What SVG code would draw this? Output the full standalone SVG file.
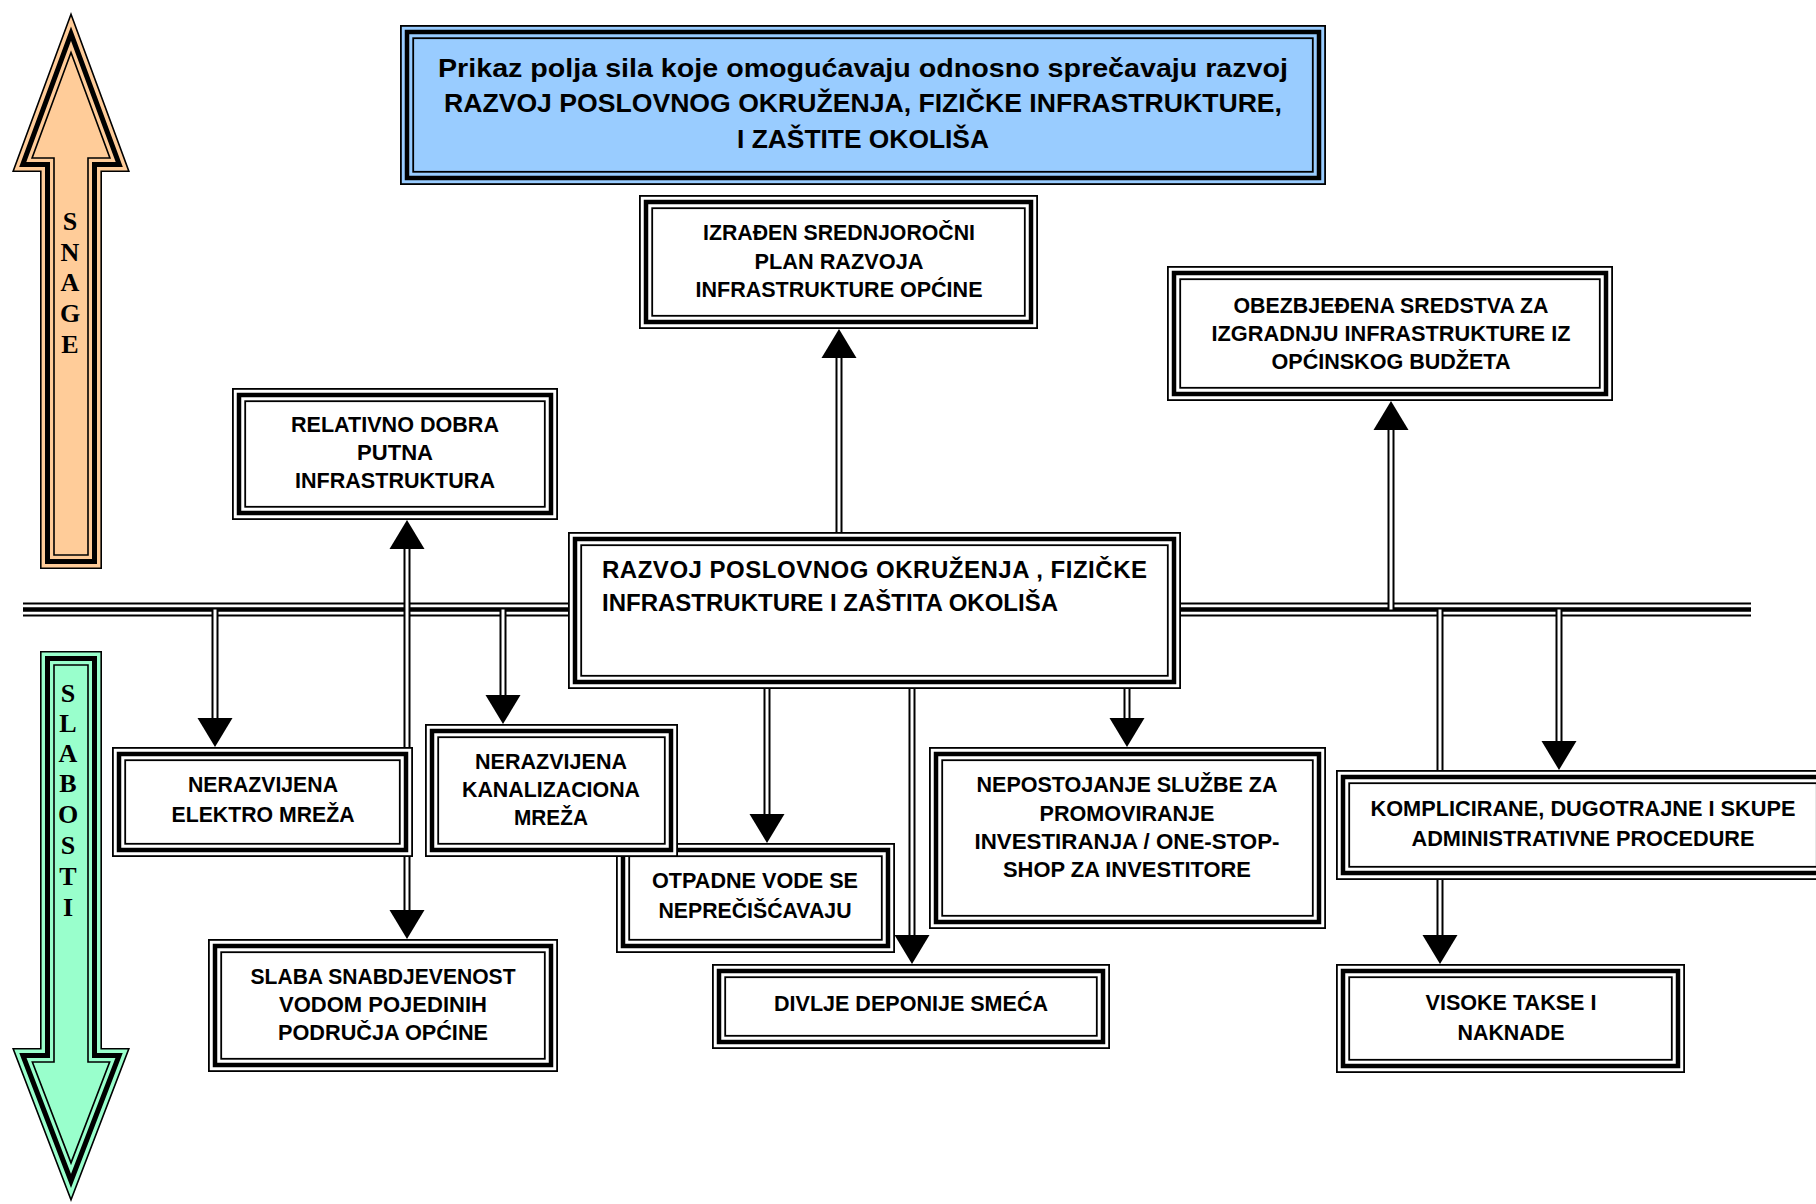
<svg xmlns="http://www.w3.org/2000/svg" width="1816" height="1204" viewBox="0 0 1816 1204">
<style>
.o{fill:#fff;stroke:#000;stroke-width:1.8}
.ob{fill:#99CCFF;stroke:#000;stroke-width:1.8}
.m{fill:none;stroke:#000;stroke-width:4.5}
.i{fill:none;stroke:#000;stroke-width:1.8}
.t{font-family:"Liberation Sans",Arial,sans-serif;font-weight:bold;font-size:22.5px;text-anchor:middle;fill:#000}
.tc{font-family:"Liberation Sans",Arial,sans-serif;font-weight:bold;font-size:24px;fill:#000}
.tt{font-family:"Liberation Sans",Arial,sans-serif;font-weight:bold;font-size:26.5px;text-anchor:middle;fill:#000}
.al{font-family:"Liberation Serif","Times New Roman",serif;font-weight:bold;font-size:26px;text-anchor:middle;fill:#000}
.cb{stroke:#000;stroke-width:7;fill:none}
.cw{stroke:#fff;stroke-width:3;fill:none}
.ah{fill:#000}
.bt{stroke:#000;stroke-width:2}
.bk{stroke:#000;stroke-width:4.5}
.a1{stroke:#000;stroke-width:1.6}
.a2{fill:none;stroke:#000;stroke-width:5}
.a3{fill:none;stroke:#000;stroke-width:1.6}
</style>

<g id="arrow-snage">
<path class="a1" fill="#FFCC99" d="M71,14.3 L128.85,171.2 L101.2,171.2 L101.2,568.2 L40.8,568.2 L40.8,171.2 L13.15,171.2 Z"/>
<path class="a2" d="M71,33.7 L119.24,164.5 L94.5,164.5 L94.5,561.5 L47.5,561.5 L47.5,164.5 L22.76,164.5 Z"/>
<path class="a3" d="M71,52.5 L109.92,158 L88,158 L88,555 L54,555 L54,158 L32.08,158 Z"/>
<text class="al" x="70" y="230">S</text>
<text class="al" x="70" y="261">N</text>
<text class="al" x="70" y="291">A</text>
<text class="al" x="70" y="322">G</text>
<text class="al" x="70" y="353">E</text>
</g>

<g id="arrow-slabosti">
<path class="a1" fill="#99FFCC" d="M40.8,651.8 L101.2,651.8 L101.2,1048.8 L128.84,1048.8 L71,1199.8 L13.16,1048.8 L40.8,1048.8 Z"/>
<path class="a2" d="M47.5,658.5 L94.5,658.5 L94.5,1055.5 L119.1,1055.5 L71,1181 L22.9,1055.5 L47.5,1055.5 Z"/>
<path class="a3" d="M54,665 L88,665 L88,1062 L109.65,1062 L71,1162.9 L32.35,1062 L54,1062 Z"/>
<text class="al" x="68" y="702">S</text>
<text class="al" x="68" y="732">L</text>
<text class="al" x="68" y="762">A</text>
<text class="al" x="68" y="792">B</text>
<text class="al" x="68" y="823">O</text>
<text class="al" x="68" y="854">S</text>
<text class="al" x="68" y="885">T</text>
<text class="al" x="68" y="916">I</text>
</g>

<g id="connectors">
<line class="bt" x1="23" y1="603.5" x2="1751" y2="603.5"/>
<line class="bk" x1="23" y1="609.5" x2="1751" y2="609.5"/>
<line class="bt" x1="23" y1="615.5" x2="1751" y2="615.5"/>
<path class="cb" d="M839,540 V356 M1391,609.5 V428 M407,547 V912 M215,609.5 V720 M503,609.5 V697 M767,680 V816 M912,680 V937 M1127,680 V720 M1559,609.5 V743 M1440,609.5 V937"/>
<path class="cw" d="M839,540 V358 M1391,609.5 V430 M407,549 V910 M215,609.5 V718 M503,609.5 V695 M767,680 V814 M912,680 V935 M1127,680 V718 M1559,609.5 V741 M1440,609.5 V935"/>
<polygon class="ah" points="839,329 821.5,358 856.5,358"/>
<polygon class="ah" points="1391,401 1373.5,430 1408.5,430"/>
<polygon class="ah" points="407,520 389.5,549 424.5,549"/>
<polygon class="ah" points="407,939 389.5,910 424.5,910"/>
<polygon class="ah" points="215,747 197.5,718 232.5,718"/>
<polygon class="ah" points="503,724 485.5,695 520.5,695"/>
<polygon class="ah" points="767,843 749.5,814 784.5,814"/>
<polygon class="ah" points="912,964 894.5,935 929.5,935"/>
<polygon class="ah" points="1127,747 1109.5,718 1144.5,718"/>
<polygon class="ah" points="1559,770 1541.5,741 1576.5,741"/>
<polygon class="ah" points="1440,964 1422.5,935 1457.5,935"/>
</g>

<g id="title">
<rect class="ob" x="400.9" y="25.9" width="924.2" height="158.2"/>
<rect class="m" x="407" y="32" width="912" height="146"/>
<rect class="i" x="413.2" y="38.2" width="899.6" height="133.6"/>
<text class="tt" x="863" y="77" textLength="850" lengthAdjust="spacingAndGlyphs">Prikaz polja sila koje omogućavaju odnosno sprečavaju razvoj</text>
<text class="tt" x="863" y="112" textLength="838" lengthAdjust="spacingAndGlyphs">RAZVOJ POSLOVNOG OKRUŽENJA, FIZIČKE INFRASTRUKTURE,</text>
<text class="tt" x="863" y="148" textLength="252" lengthAdjust="spacingAndGlyphs">I ZAŠTITE OKOLIŠA</text>
</g>

<g id="izradjen">
<rect class="o" x="639.9" y="195.9" width="397.2" height="132.2"/>
<rect class="m" x="646" y="202" width="385" height="120"/>
<rect class="i" x="652.2" y="208.2" width="372.6" height="107.6"/>
<text class="t" x="839" y="240" textLength="272" lengthAdjust="spacingAndGlyphs">IZRAĐEN SREDNJOROČNI</text>
<text class="t" x="839" y="269" textLength="169" lengthAdjust="spacingAndGlyphs">PLAN RAZVOJA</text>
<text class="t" x="839" y="297" textLength="287" lengthAdjust="spacingAndGlyphs">INFRASTRUKTURE OPĆINE</text>
</g>

<g id="obezbjedjena">
<rect class="o" x="1167.9" y="266.9" width="444.2" height="133.2"/>
<rect class="m" x="1174" y="273" width="432" height="121"/>
<rect class="i" x="1180.2" y="279.2" width="419.6" height="108.6"/>
<text class="t" x="1391" y="313" textLength="315" lengthAdjust="spacingAndGlyphs">OBEZBJEĐENA SREDSTVA ZA</text>
<text class="t" x="1391" y="341" textLength="359" lengthAdjust="spacingAndGlyphs">IZGRADNJU INFRASTRUKTURE IZ</text>
<text class="t" x="1391" y="369" textLength="239" lengthAdjust="spacingAndGlyphs">OPĆINSKOG BUDŽETA</text>
</g>

<g id="relativno">
<rect class="o" x="232.9" y="388.9" width="324.2" height="130.2"/>
<rect class="m" x="239" y="395" width="312" height="118"/>
<rect class="i" x="245.2" y="401.2" width="299.6" height="105.6"/>
<text class="t" x="395" y="432" textLength="208" lengthAdjust="spacingAndGlyphs">RELATIVNO DOBRA</text>
<text class="t" x="395" y="460" textLength="76" lengthAdjust="spacingAndGlyphs">PUTNA</text>
<text class="t" x="395" y="488" textLength="200" lengthAdjust="spacingAndGlyphs">INFRASTRUKTURA</text>
</g>

<g id="central">
<rect class="o" x="568.9" y="532.9" width="611.2" height="155.2"/>
<rect class="m" x="575" y="539" width="599" height="143"/>
<rect class="i" x="581.2" y="545.2" width="586.6" height="130.6"/>
<text class="tc" x="602" y="578" textLength="545" lengthAdjust="spacing">RAZVOJ POSLOVNOG OKRUŽENJA , FIZIČKE</text>
<text class="tc" x="602" y="611">INFRASTRUKTURE I ZAŠTITA OKOLIŠA</text>
</g>

<g id="elektro">
<rect class="o" x="112.9" y="747.9" width="299.2" height="108.2"/>
<rect class="m" x="119" y="754" width="287" height="96"/>
<rect class="i" x="125.2" y="760.2" width="274.6" height="83.6"/>
<text class="t" x="263" y="792" textLength="150" lengthAdjust="spacingAndGlyphs">NERAZVIJENA</text>
<text class="t" x="263" y="822" textLength="183" lengthAdjust="spacingAndGlyphs">ELEKTRO MREŽA</text>
</g>

<g id="otpadne">
<rect class="o" x="616.9" y="843.9" width="277.2" height="108.2"/>
<rect class="m" x="623" y="850" width="265" height="96"/>
<rect class="i" x="629.2" y="856.2" width="252.6" height="83.6"/>
<text class="t" x="755" y="888" textLength="206" lengthAdjust="spacingAndGlyphs">OTPADNE VODE SE</text>
<text class="t" x="755" y="918" textLength="193" lengthAdjust="spacingAndGlyphs">NEPREČIŠĆAVAJU</text>
</g>

<g id="kanalizaciona">
<rect class="o" x="425.9" y="724.9" width="251.2" height="131.2"/>
<rect class="m" x="432" y="731" width="239" height="119"/>
<rect class="i" x="438.2" y="737.2" width="226.6" height="106.6"/>
<text class="t" x="551" y="769" textLength="152" lengthAdjust="spacingAndGlyphs">NERAZVIJENA</text>
<text class="t" x="551" y="797" textLength="178" lengthAdjust="spacingAndGlyphs">KANALIZACIONA</text>
<text class="t" x="551" y="825" textLength="74" lengthAdjust="spacingAndGlyphs">MREŽA</text>
</g>

<g id="slaba">
<rect class="o" x="208.9" y="939.9" width="348.2" height="131.2"/>
<rect class="m" x="215" y="946" width="336" height="119"/>
<rect class="i" x="221.2" y="952.2" width="323.6" height="106.6"/>
<text class="t" x="383" y="984" textLength="265" lengthAdjust="spacingAndGlyphs">SLABA SNABDJEVENOST</text>
<text class="t" x="383" y="1012" textLength="208" lengthAdjust="spacingAndGlyphs">VODOM POJEDINIH</text>
<text class="t" x="383" y="1040" textLength="210" lengthAdjust="spacingAndGlyphs">PODRUČJA OPĆINE</text>
</g>

<g id="divlje">
<rect class="o" x="712.9" y="964.9" width="396.2" height="83.2"/>
<rect class="m" x="719" y="971" width="384" height="71"/>
<rect class="i" x="725.2" y="977.2" width="371.6" height="58.6"/>
<text class="t" x="911" y="1011" textLength="274" lengthAdjust="spacingAndGlyphs">DIVLJE DEPONIJE SMEĆA</text>
</g>

<g id="nepostojanje">
<rect class="o" x="929.9" y="747.9" width="395.2" height="180.2"/>
<rect class="m" x="936" y="754" width="383" height="168"/>
<rect class="i" x="942.2" y="760.2" width="370.6" height="155.6"/>
<text class="t" x="1127" y="792" textLength="301" lengthAdjust="spacingAndGlyphs">NEPOSTOJANJE SLUŽBE ZA</text>
<text class="t" x="1127" y="821" textLength="175" lengthAdjust="spacingAndGlyphs">PROMOVIRANJE</text>
<text class="t" x="1127" y="849" textLength="305" lengthAdjust="spacingAndGlyphs">INVESTIRANJA / ONE-STOP-</text>
<text class="t" x="1127" y="877" textLength="248" lengthAdjust="spacingAndGlyphs">SHOP ZA INVESTITORE</text>
</g>

<g id="komplicirane">
<rect class="o" x="1336.9" y="770.9" width="492.2" height="108.2"/>
<rect class="m" x="1343" y="777" width="480" height="96"/>
<rect class="i" x="1349.2" y="783.2" width="467.6" height="83.6"/>
<text class="t" x="1583" y="816" textLength="425" lengthAdjust="spacingAndGlyphs">KOMPLICIRANE, DUGOTRAJNE I SKUPE</text>
<text class="t" x="1583" y="846" textLength="343" lengthAdjust="spacingAndGlyphs">ADMINISTRATIVNE PROCEDURE</text>
</g>

<g id="visoke">
<rect class="o" x="1336.9" y="964.9" width="347.2" height="107.2"/>
<rect class="m" x="1343" y="971" width="335" height="95"/>
<rect class="i" x="1349.2" y="977.2" width="322.6" height="82.6"/>
<text class="t" x="1511" y="1010" textLength="171" lengthAdjust="spacingAndGlyphs">VISOKE TAKSE I</text>
<text class="t" x="1511" y="1040" textLength="107" lengthAdjust="spacingAndGlyphs">NAKNADE</text>
</g>
</svg>
